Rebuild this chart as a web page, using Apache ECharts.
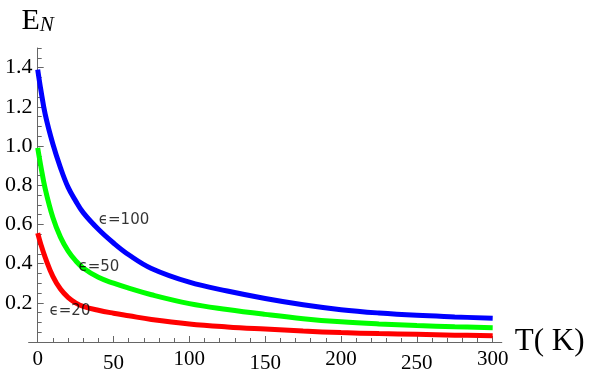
<!DOCTYPE html>
<html>
<head>
<meta charset="utf-8">
<script src="https://cdn.jsdelivr.net/npm/echarts@6/dist/echarts.min.js"></script>
<style>
  html, body { margin: 0; padding: 0; background: #fff; }
  #chart { width: 589px; height: 376px; }
</style>
</head>
<body>
<div id="chart"></div>
<script>
// Temperature samples (K)
const T = [0, 2, 5, 10, 15, 20, 25, 30, 40, 50, 60, 75, 100, 125, 150, 175, 200, 225, 250, 275, 300];
// E_N values
const eps100 = [1.39, 1.29, 1.16, 1.01, 0.89, 0.79, 0.72, 0.66, 0.575, 0.505, 0.445, 0.375, 0.305, 0.26, 0.222, 0.19, 0.165, 0.148, 0.136, 0.128, 0.121];
const eps50  = [0.99, 0.90, 0.78, 0.635, 0.535, 0.465, 0.415, 0.378, 0.33, 0.30, 0.275, 0.241, 0.196, 0.166, 0.141, 0.119, 0.103, 0.092, 0.084, 0.078, 0.073];
const eps20  = [0.555, 0.50, 0.43, 0.335, 0.27, 0.228, 0.20, 0.182, 0.162, 0.147, 0.134, 0.115, 0.092, 0.077, 0.066, 0.056, 0.048, 0.043, 0.039, 0.035, 0.032];

// Curve labels and their anchor (data coordinates)
const curveLabels = ['ϵ=100', 'ϵ=50', 'ϵ=20'];
const labelT = [56.9, 40.4, 21.3];
const labelE = [0.622, 0.383, 0.158];

// Ticks
const xMajorTicks = [0, 50, 100, 150, 200, 250, 300];
const xMinorTicks = [10, 20, 30, 40, 60, 70, 80, 90, 110, 120, 130, 140, 160, 170, 180, 190, 210, 220, 230, 240, 260, 270, 280, 290];
const yMajorTicks = [0.2, 0.4, 0.6, 0.8, 1.0, 1.2, 1.4];
const yMinorTicks = [0.05, 0.1, 0.15, 0.25, 0.3, 0.35, 0.45, 0.5, 0.55, 0.65, 0.7, 0.75, 0.85, 0.9, 0.95, 1.05, 1.1, 1.15, 1.25, 1.3, 1.35, 1.45, 1.5];

const AXIS_COLOR = '#666';
const SERIF = 'Liberation Serif';

function pairs(xs, ys) { return xs.map((x, i) => [x, ys[i]]); }

const chart = echarts.init(document.getElementById('chart'), null, { renderer: 'canvas' });

const lineSeries = (data, color) => ({
  type: 'line',
  data: data,
  xAxisIndex: 0,
  yAxisIndex: 0,
  smooth: 0.4,
  showSymbol: false,
  symbol: 'none',
  lineStyle: { color: color, width: 5, cap: 'butt' },
  z: 3,
  silent: true
});

chart.setOption({
  animation: false,
  backgroundColor: '#fff',
  grid: { left: 28.6, right: 87.2, top: 48, bottom: 34, containLabel: false, outerBoundsMode: 'none' },
  xAxis: [
    {
      type: 'value', min: -6, max: 306, position: 'bottom',
      axisLine: { show: true, onZero: true, lineStyle: { color: AXIS_COLOR, width: 1 } },
      axisTick: { show: true, inside: true, length: 6, customValues: xMajorTicks, lineStyle: { color: AXIS_COLOR } },
      axisLabel: {
        show: true, customValues: xMajorTicks, margin: 7,
        formatter: v => ((v / 50) % 2 === 1 ? '{b|' + v + '}' : '{a|' + v + '}'),
        rich: {
          a: { fontFamily: SERIF, fontSize: 21, color: '#000' },
          b: { fontFamily: SERIF, fontSize: 21, color: '#000', padding: [4, 0, 0, 0] }
        }
      },
      splitLine: { show: false },
      name: 'T( K)', nameLocation: 'end', nameGap: 13,
      nameTextStyle: { fontFamily: SERIF, fontSize: 31, color: '#000' }
    },
    {
      type: 'value', min: -6, max: 306, position: 'bottom',
      axisLine: { show: true, onZero: true, lineStyle: { color: 'rgba(0,0,0,0)', width: 1 } },
      axisTick: { show: true, inside: true, length: 4, customValues: xMinorTicks, lineStyle: { color: AXIS_COLOR } },
      axisLabel: { show: false },
      splitLine: { show: false }
    }
  ],
  yAxis: [
    {
      type: 'value', min: 0, max: 1.5, position: 'left',
      axisLine: { show: true, onZero: true, onZeroAxisIndex: 0, lineStyle: { color: AXIS_COLOR, width: 1 } },
      axisTick: { show: true, inside: true, length: 6, customValues: yMajorTicks, lineStyle: { color: AXIS_COLOR } },
      axisLabel: {
        show: true, customValues: yMajorTicks, margin: -4,
        formatter: v => v.toFixed(1),
        fontFamily: SERIF, fontSize: 22, color: '#000'
      },
      splitLine: { show: false },
      name: '{e|E}{n|N}', nameLocation: 'end', nameGap: 12,
      nameTextStyle: {
        rich: {
          e: { fontFamily: SERIF, fontSize: 30, color: '#000', lineHeight: 30, verticalAlign: 'bottom' },
          n: { fontFamily: SERIF, fontSize: 21, fontStyle: 'italic', color: '#000', lineHeight: 22, verticalAlign: 'bottom' }
        }
      }
    },
    {
      type: 'value', min: 0, max: 1.5, position: 'left',
      axisLine: { show: true, onZero: true, onZeroAxisIndex: 0, lineStyle: { color: 'rgba(0,0,0,0)', width: 1 } },
      axisTick: { show: true, inside: true, length: 4, customValues: yMinorTicks, lineStyle: { color: AXIS_COLOR } },
      axisLabel: { show: false },
      splitLine: { show: false }
    }
  ],
  series: [
    lineSeries(pairs(T, eps100), '#0000ff'),
    lineSeries(pairs(T, eps50), '#00ff00'),
    lineSeries(pairs(T, eps20), '#ff0000'),
    {
      type: 'scatter',
      xAxisIndex: 0, yAxisIndex: 0,
      symbolSize: 1,
      itemStyle: { color: 'rgba(0,0,0,0)' },
      data: curveLabels.map((name, i) => ({ name: name, value: [labelT[i], labelE[i]] })),
      label: {
        show: true, position: 'inside',
        formatter: p => p.name,
        fontFamily: 'DejaVu Sans', fontSize: 15, color: '#000'
      },
      z: 5,
      silent: true
    }
  ]
});
</script>
</body>
</html>
